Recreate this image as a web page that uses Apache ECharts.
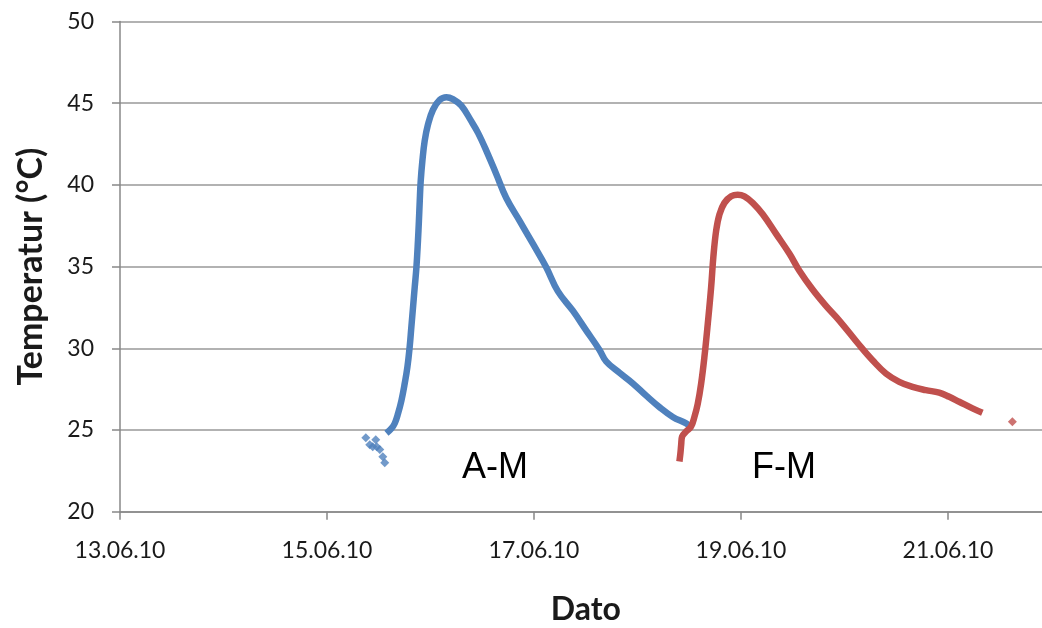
<!DOCTYPE html>
<html>
<head>
<meta charset="utf-8">
<script src="https://cdn.jsdelivr.net/npm/echarts@6/dist/echarts.min.js"></script>
<style>html,body{margin:0;padding:0;background:#fff}#c{width:1042px;height:628px}</style>
</head>
<body>
<div id="c"></div>
<script>
// Dates are June 2010 day-of-month with fractional day; temperatures in °C
const BASE_DAY = 13;
const xTickDays = [13, 15, 17, 19, 21];

const amScatterDates = [15.375, 15.413, 15.442, 15.471, 15.481, 15.510, 15.539, 15.558];
const amScatterTemps = [24.53, 24.10, 23.98, 24.41, 23.98, 23.80, 23.37, 23.00];

const amDates = [15.574, 15.623, 15.654, 15.686, 15.719, 15.751, 15.777, 15.799, 15.815, 15.831,
  15.847, 15.864, 15.879, 15.888, 15.896, 15.905, 15.922, 15.944, 15.976, 16.024,
  16.089, 16.154, 16.216, 16.298, 16.394, 16.458, 16.539, 16.636, 16.732, 16.861,
  16.989, 17.118, 17.230, 17.375, 17.504, 17.633, 17.697, 17.826, 17.955, 18.084,
  18.212, 18.341, 18.470, 18.500];
const amTemps = [24.8, 25.1, 25.4, 26.0, 26.8, 27.85, 28.86, 30.1, 31.3, 32.5,
  33.7, 34.96, 36.6, 37.8, 39.0, 40.2, 41.5, 42.7, 43.7, 44.6,
  45.2, 45.37, 45.25, 44.85, 43.9, 43.2, 42.1, 40.65, 39.2, 37.8,
  36.4, 34.96, 33.5, 32.3, 31.1, 29.9, 29.2, 28.5, 27.85, 27.1,
  26.4, 25.8, 25.4, 25.25];

const fmDates = [18.405, 18.415, 18.422, 18.431, 18.469, 18.517, 18.550, 18.582, 18.615, 18.647,
  18.679, 18.711, 18.733, 18.760, 18.792, 18.840, 18.905, 18.968, 19.033, 19.113,
  19.210, 19.339, 19.467, 19.564, 19.692, 19.821, 19.950, 20.143, 20.271, 20.400,
  20.529, 20.657, 20.786, 20.915, 21.012, 21.108, 21.237, 21.332];
const fmTemps = [23.07, 23.6, 24.1, 24.6, 24.9, 25.2, 25.8, 26.6, 27.85, 29.5,
  31.5, 33.7, 35.6, 37.2, 38.2, 38.9, 39.3, 39.4, 39.3, 38.9,
  38.2, 37.0, 35.8, 34.75, 33.6, 32.6, 31.7, 30.2, 29.27, 28.46,
  27.95, 27.64, 27.44, 27.28, 27.03, 26.73, 26.32, 26.05];

const fmScatterDates = [21.622];
const fmScatterTemps = [25.5];

const BLUE = '#4F81BD';
const RED = '#C0504D';

function pts(ds, ts) { return ds.map((d, i) => [d - BASE_DAY, ts[i]]); }

const chart = echarts.init(document.getElementById('c'), null, {renderer: 'canvas'});
const labelFont = {fontFamily: 'Lato', fontSize: 23, color: '#1a1a1a'};
chart.setOption({
  animation: false,
  grid: {left: 120, right: -9.5, top: 21.5, bottom: 116.3, containLabel: false, outerBoundsMode: 'none'},
  xAxis: {
    type: 'value', min: 0, max: 9, interval: 2,
    name: 'Dato', nameLocation: 'middle', nameGap: 82,
    nameTextStyle: {fontFamily: 'Lato', fontWeight: 'bold', fontSize: 32, color: '#1a1a1a'},
    axisLine: {show: true, lineStyle: {color: '#888', width: 1.5}},
    axisTick: {show: true, length: 8, lineStyle: {color: '#888', width: 1.5}},
    axisLabel: Object.assign({margin: 27, showMaxLabel: false, formatter: v => {
      const d = Math.round(v + BASE_DAY);
      return (d < 10 ? '0' : '') + d + '.06.10';
    }}, labelFont),
    splitLine: {show: false}
  },
  yAxis: {
    type: 'value', min: 20, max: 50, interval: 5,
    name: 'Temperatur (°C)', nameLocation: 'middle', nameGap: 72, nameRotate: 90,
    nameTextStyle: {fontFamily: 'Lato', fontWeight: 'bold', fontSize: 34, color: '#1a1a1a'},
    axisLine: {show: true, lineStyle: {color: '#888', width: 1.5}},
    axisTick: {show: true, length: 8, lineStyle: {color: '#888', width: 1.5}},
    axisLabel: Object.assign({margin: 26}, labelFont),
    splitLine: {show: true, lineStyle: {color: '#999', width: 1.5}}
  },
  series: [
    {type: 'scatter', data: pts(amScatterDates, amScatterTemps), symbol: 'diamond', symbolSize: 9,
      itemStyle: {color: BLUE}},
    {type: 'line', data: pts(amDates, amTemps), smooth: 0.4, showSymbol: false,
      lineStyle: {color: BLUE, width: 6.5}, itemStyle: {color: BLUE}},
    {type: 'line', data: pts(fmDates, fmTemps), smooth: 0.4, showSymbol: false,
      lineStyle: {color: RED, width: 6.5}, itemStyle: {color: RED}},
    {type: 'scatter', data: pts(fmScatterDates, fmScatterTemps), symbol: 'diamond', symbolSize: 9,
      itemStyle: {color: RED}}
  ],
  graphic: [
    {type: 'text', left: 462, top: 450, style: {text: 'A-M', font: '36px "Liberation Sans"', fill: '#000'}},
    {type: 'text', left: 752, top: 450, style: {text: 'F-M', font: '36px "Liberation Sans"', fill: '#000'}}
  ]
});
</script>
</body>
</html>
